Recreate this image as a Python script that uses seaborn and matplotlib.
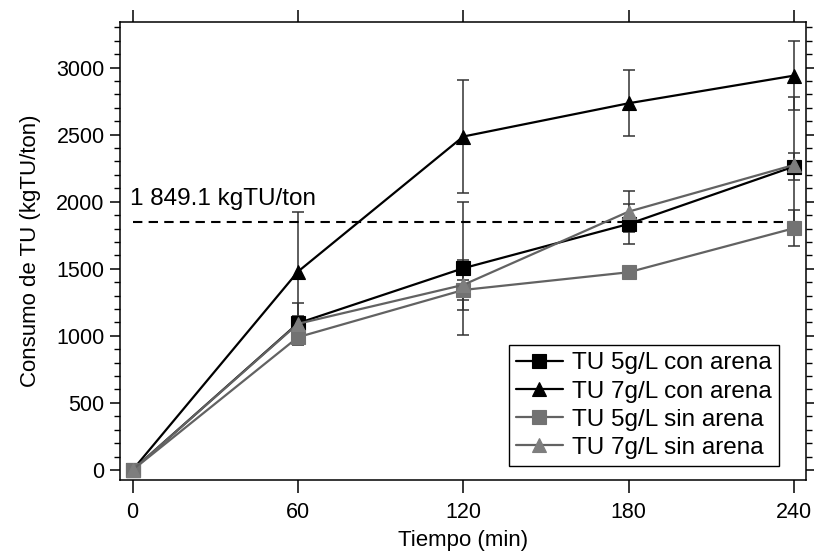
import numpy as np
import pandas as pd
import matplotlib
matplotlib.use('Agg')
import matplotlib.pyplot as plt
import seaborn as sns
from matplotlib.ticker import MultipleLocator

# Data
tiempo = [0, 60, 120, 180, 240]
series = ['TU 5g/L con arena', 'TU 7g/L con arena', 'TU 5g/L sin arena', 'TU 7g/L sin arena']
tu5_con = [0, 1094, 1504, 1834, 2262]
tu7_con = [0, 1479, 2486, 2734, 2940]
tu5_sin = [0, 990, 1342, 1474, 1802]
tu7_sin = [0, 1090, 1380, 1926, 2274]
err5_con = [0, 150, 497, 147, 100]
err7_con = [0, 447, 423, 246, 255]
err5_sin = [0, 60, 74, 30, 135]
err7_sin = [0, 60, 187, 154, 505]
limite = 1849.1

sns.set_style('ticks')
plt.rcParams['font.family'] = ['Liberation Sans', 'DejaVu Sans']
plt.rcParams.update({'text.color': 'black', 'axes.labelcolor': 'black',
                     'xtick.color': 'black', 'ytick.color': 'black',
                     'axes.edgecolor': 'black'})

valores = [tu5_con, tu7_con, tu5_sin, tu7_sin]
errores = [err5_con, err7_con, err5_sin, err7_sin]
df = pd.DataFrame({
    't': tiempo * 4,
    'v': sum(valores, []),
    'serie': [s for s in series for _ in tiempo],
})

color_linea = {series[0]: 'black', series[1]: 'black', series[2]: '#626262', series[3]: '#626262'}
color_marca = {series[0]: 'black', series[1]: 'black', series[2]: '#727272', series[3]: '#7e7e7e'}
marcas = {series[0]: 's', series[1]: '^', series[2]: 's', series[3]: '^'}

fig = plt.figure(figsize=(8.14, 5.57), dpi=100)
ax = fig.add_axes([0.1474, 0.1382, 0.8428, 0.8228])

# error bars under the lines
for v, e in zip(valores, errores):
    ax.errorbar(tiempo, v, yerr=e, fmt='none', ecolor='#333333', elinewidth=1.1,
                capsize=4, capthick=1.1, zorder=1)

ax.hlines(limite, 0, 243, colors='black', linestyles=(0, (4.5, 3)), linewidth=1.5, zorder=2)
ax.text(-1.1, 1972, '1 849.1 kgTU/ton', fontsize=17.5, ha='left', va='baseline')

for s in series:
    sub = df[df['serie'] == s]
    sns.lineplot(data=sub, x='t', y='v', ax=ax, color=color_linea[s], marker=marcas[s],
                 markersize=10, markerfacecolor=color_marca[s], markeredgecolor=color_marca[s],
                 markeredgewidth=0.8, linewidth=1.6, zorder=3, label=s)

ax.legend(loc='lower right', bbox_to_anchor=(0.961, 0.0306), borderaxespad=0,
          frameon=True, fancybox=False, edgecolor='black', framealpha=1, fontsize=17.5,
          handlelength=1.9, handletextpad=0.4, borderpad=0.3, labelspacing=0.25)
ax.get_legend().get_frame().set_linewidth(1.0)

ax.set_xlim(-4.6, 244.4)
ax.set_ylim(-75, 3342)
ax.set_xticks(tiempo)
ax.yaxis.set_major_locator(MultipleLocator(500))
ax.yaxis.set_minor_locator(MultipleLocator(100))
ax.tick_params(axis='x', which='major', direction='out', length=9, width=1.1,
               top=True, labelsize=15.5, pad=7)
ax.tick_params(axis='y', which='major', direction='out', length=7, width=1.1,
               right=True, labelsize=15.5, pad=4)
ax.tick_params(axis='y', which='minor', direction='out', length=4, width=1.0, right=True)
for sp in ax.spines.values():
    sp.set_linewidth(1.1)
    sp.set_visible(True)

ax.set_xlabel('Tiempo (min)', fontsize=16, labelpad=5)
ax.set_ylabel('Consumo de TU (kgTU/ton)', fontsize=16, labelpad=11)

fig.savefig('out.png', dpi=100)
